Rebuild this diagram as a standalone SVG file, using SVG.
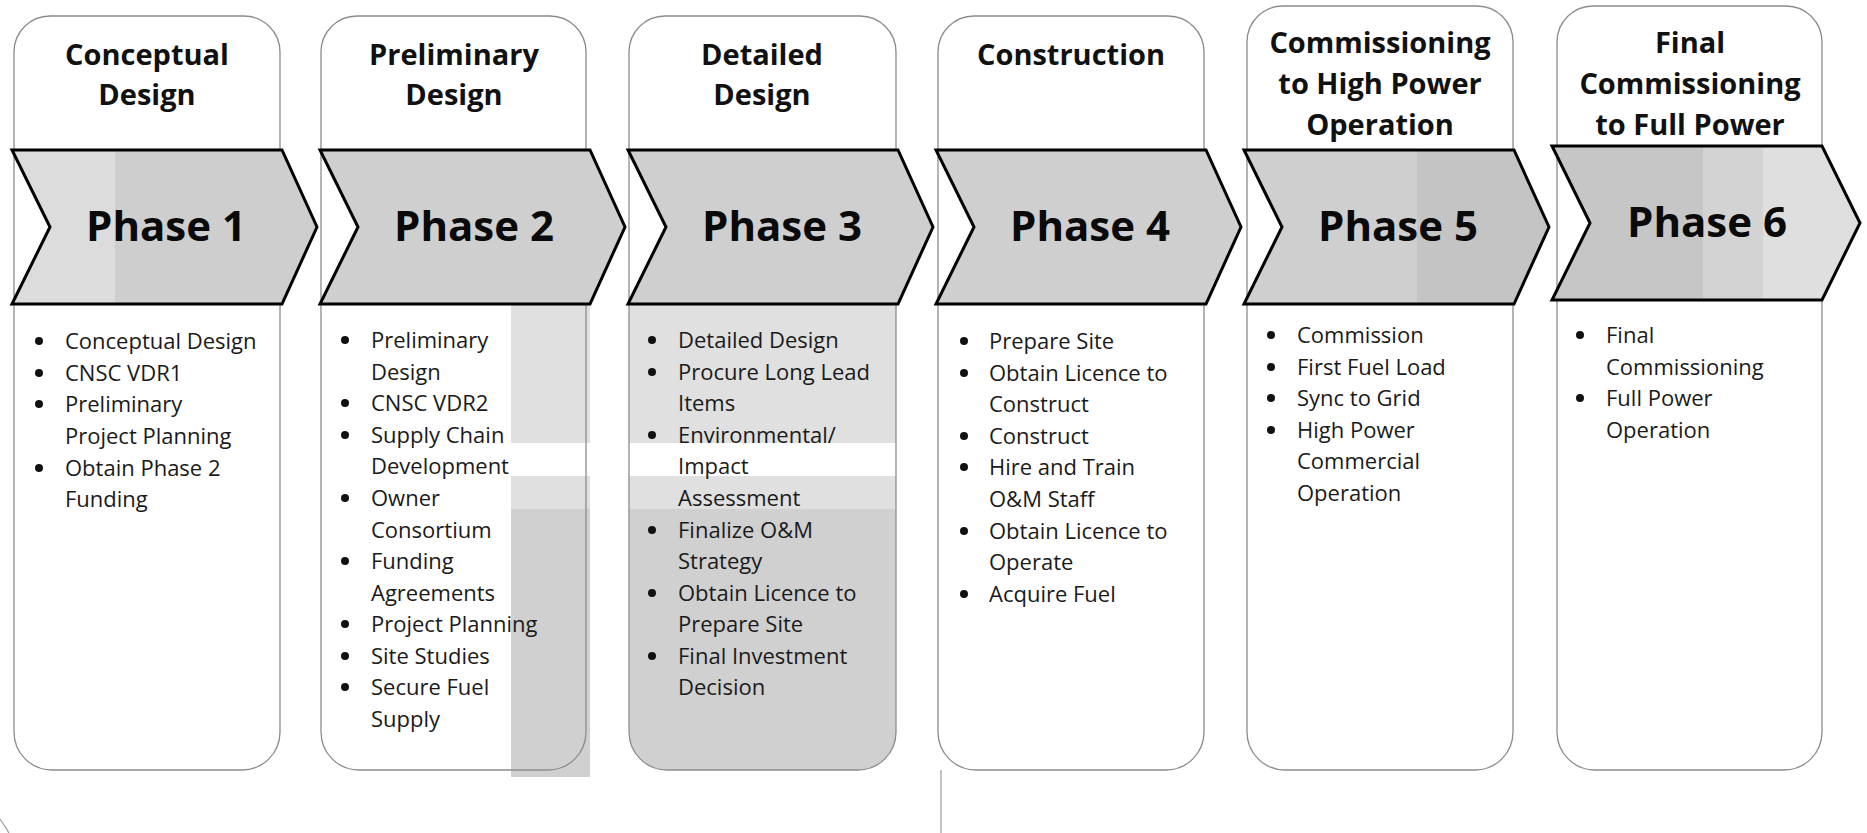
<svg xmlns="http://www.w3.org/2000/svg" width="1867" height="833" viewBox="0 0 1867 833">
<style>
.col{fill:#ffffff;stroke:none}
.colline{fill:none;stroke:#8c8c8c;stroke-width:1.3}
.chev{stroke:#000;stroke-width:3;stroke-linejoin:miter}
.hd{font-family:"Open Sans","Noto Sans","DejaVu Sans",sans-serif;font-weight:700;font-size:29px;fill:#111;text-anchor:middle}
.ph{font-family:"Open Sans","Noto Sans","DejaVu Sans",sans-serif;font-weight:700;font-size:42px;fill:#0a0a0a;text-anchor:middle}
.bd{font-family:"Open Sans","Noto Sans","DejaVu Sans",sans-serif;font-weight:400;font-size:22px;fill:#1a1a1a}
.bul{fill:#111}
.lt{fill:#e0e0e0}
.dk{fill:#d0d0d0}
.deco{fill:none;stroke:#9a9a9a;stroke-width:1.2}
</style>
<defs>
<linearGradient id="g1" gradientUnits="userSpaceOnUse" x1="12" y1="0" x2="317" y2="0">
<stop offset="0" stop-color="#dcdcdc"/><stop offset="0.338" stop-color="#dcdcdc"/><stop offset="0.338" stop-color="#cecece"/><stop offset="1" stop-color="#cecece"/>
</linearGradient>
<linearGradient id="g5" gradientUnits="userSpaceOnUse" x1="1244" y1="0" x2="1549" y2="0">
<stop offset="0" stop-color="#cfcfcf"/><stop offset="0.567" stop-color="#cfcfcf"/><stop offset="0.567" stop-color="#c4c4c4"/><stop offset="1" stop-color="#c4c4c4"/>
</linearGradient>
<linearGradient id="g6" gradientUnits="userSpaceOnUse" x1="1552" y1="0" x2="1860" y2="0">
<stop offset="0" stop-color="#c6c6c6"/><stop offset="0.49" stop-color="#c6c6c6"/><stop offset="0.49" stop-color="#d3d3d3"/><stop offset="0.684" stop-color="#d3d3d3"/><stop offset="0.684" stop-color="#dfdfdf"/><stop offset="1" stop-color="#dfdfdf"/>
</linearGradient>
<clipPath id="clip3">
<path d="M629,52 A36,36 0 0 1 665,16 H860 A36,36 0 0 1 896,52 V732 A38,38 0 0 1 858,770 H667 A38,38 0 0 1 629,732 Z"/>
</clipPath>
</defs>

<rect x="0" y="0" width="1867" height="833" fill="#ffffff"/>

<!-- Phase 1 -->
<g id="phase1">
<path class="col" d="M14,52 A36,36 0 0 1 50,16 H244 A36,36 0 0 1 280,52 V732 A38,38 0 0 1 242,770 H52 A38,38 0 0 1 14,732 Z"/>
<path class="colline" d="M14,52 A36,36 0 0 1 50,16 H244 A36,36 0 0 1 280,52 V732 A38,38 0 0 1 242,770 H52 A38,38 0 0 1 14,732 Z"/>
<text class="hd" x="147" y="65">Conceptual</text>
<text class="hd" x="147" y="105">Design</text>
<polygon class="chev" fill="url(#g1)" points="12,150 282,150 317,227 282,304 12,304 50,227"/>
<text class="ph" x="166" y="241">Phase 1</text>
<g class="bul"><circle cx="39" cy="341" r="4"/><circle cx="39" cy="373" r="4"/><circle cx="39" cy="404" r="4"/><circle cx="39" cy="468" r="4"/></g>
<text class="bd" x="65" y="349">Conceptual Design</text>
<text class="bd" x="65" y="381">CNSC VDR1</text>
<text class="bd" x="65" y="412">Preliminary</text>
<text class="bd" x="65" y="444">Project Planning</text>
<text class="bd" x="65" y="476">Obtain Phase 2</text>
<text class="bd" x="65" y="507">Funding</text>
</g>

<!-- Phase 2 -->
<g id="phase2">
<path class="col" d="M321,52 A36,36 0 0 1 357,16 H550 A36,36 0 0 1 586,52 V732 A38,38 0 0 1 548,770 H359 A38,38 0 0 1 321,732 Z"/>
<rect class="lt" x="511" y="305" width="79" height="138"/>
<rect class="lt" x="511" y="476" width="79" height="33"/>
<rect class="dk" x="511" y="509" width="79" height="268"/>
<path class="colline" d="M321,52 A36,36 0 0 1 357,16 H550 A36,36 0 0 1 586,52 V732 A38,38 0 0 1 548,770 H359 A38,38 0 0 1 321,732 Z"/>
<text class="hd" x="454" y="65">Preliminary</text>
<text class="hd" x="454" y="105">Design</text>
<polygon class="chev" fill="#cfcfcf" points="320,150 590,150 625,227 590,304 320,304 358,227"/>
<text class="ph" x="474" y="241">Phase 2</text>
<g class="bul"><circle cx="345" cy="340" r="4"/><circle cx="345" cy="403" r="4"/><circle cx="345" cy="435" r="4"/><circle cx="345" cy="498" r="4"/><circle cx="345" cy="561" r="4"/><circle cx="345" cy="624" r="4"/><circle cx="345" cy="656" r="4"/><circle cx="345" cy="687" r="4"/></g>
<text class="bd" x="371" y="348">Preliminary</text>
<text class="bd" x="371" y="380">Design</text>
<text class="bd" x="371" y="411">CNSC VDR2</text>
<text class="bd" x="371" y="443">Supply Chain</text>
<text class="bd" x="371" y="474">Development</text>
<text class="bd" x="371" y="506">Owner</text>
<text class="bd" x="371" y="538">Consortium</text>
<text class="bd" x="371" y="569">Funding</text>
<text class="bd" x="371" y="601">Agreements</text>
<text class="bd" x="371" y="632">Project Planning</text>
<text class="bd" x="371" y="664">Site Studies</text>
<text class="bd" x="371" y="695">Secure Fuel</text>
<text class="bd" x="371" y="727">Supply</text>
</g>

<!-- Phase 3 -->
<g id="phase3">
<path class="col" d="M629,52 A36,36 0 0 1 665,16 H860 A36,36 0 0 1 896,52 V732 A38,38 0 0 1 858,770 H667 A38,38 0 0 1 629,732 Z"/>
<g clip-path="url(#clip3)">
<rect class="lt" x="625" y="305" width="275" height="138"/>
<rect class="lt" x="625" y="476" width="275" height="33"/>
<rect class="dk" x="625" y="509" width="275" height="270"/>
</g>
<path class="colline" d="M629,52 A36,36 0 0 1 665,16 H860 A36,36 0 0 1 896,52 V732 A38,38 0 0 1 858,770 H667 A38,38 0 0 1 629,732 Z"/>
<text class="hd" x="762" y="65">Detailed</text>
<text class="hd" x="762" y="105">Design</text>
<polygon class="chev" fill="#cfcfcf" points="628,150 898,150 933,227 898,304 628,304 666,227"/>
<text class="ph" x="782" y="241">Phase 3</text>
<g class="bul"><circle cx="652" cy="340" r="4"/><circle cx="652" cy="372" r="4"/><circle cx="652" cy="435" r="4"/><circle cx="652" cy="530" r="4"/><circle cx="652" cy="593" r="4"/><circle cx="652" cy="656" r="4"/></g>
<text class="bd" x="678" y="348">Detailed Design</text>
<text class="bd" x="678" y="380">Procure Long Lead</text>
<text class="bd" x="678" y="411">Items</text>
<text class="bd" x="678" y="443">Environmental/</text>
<text class="bd" x="678" y="474">Impact</text>
<text class="bd" x="678" y="506">Assessment</text>
<text class="bd" x="678" y="538">Finalize O&amp;M</text>
<text class="bd" x="678" y="569">Strategy</text>
<text class="bd" x="678" y="601">Obtain Licence to</text>
<text class="bd" x="678" y="632">Prepare Site</text>
<text class="bd" x="678" y="664">Final Investment</text>
<text class="bd" x="678" y="695">Decision</text>
</g>

<!-- Phase 4 -->
<g id="phase4">
<path class="col" d="M938,52 A36,36 0 0 1 974,16 H1168 A36,36 0 0 1 1204,52 V732 A38,38 0 0 1 1166,770 H976 A38,38 0 0 1 938,732 Z"/>
<path class="colline" d="M938,52 A36,36 0 0 1 974,16 H1168 A36,36 0 0 1 1204,52 V732 A38,38 0 0 1 1166,770 H976 A38,38 0 0 1 938,732 Z"/>
<text class="hd" x="1071" y="65">Construction</text>
<polygon class="chev" fill="#cfcfcf" points="936,150 1206,150 1241,227 1206,304 936,304 974,227"/>
<text class="ph" x="1090" y="241">Phase 4</text>
<g class="bul"><circle cx="964" cy="341" r="4"/><circle cx="964" cy="373" r="4"/><circle cx="964" cy="436" r="4"/><circle cx="964" cy="467" r="4"/><circle cx="964" cy="531" r="4"/><circle cx="964" cy="594" r="4"/></g>
<text class="bd" x="989" y="349">Prepare Site</text>
<text class="bd" x="989" y="381">Obtain Licence to</text>
<text class="bd" x="989" y="412">Construct</text>
<text class="bd" x="989" y="444">Construct</text>
<text class="bd" x="989" y="475">Hire and Train</text>
<text class="bd" x="989" y="507">O&amp;M Staff</text>
<text class="bd" x="989" y="539">Obtain Licence to</text>
<text class="bd" x="989" y="570">Operate</text>
<text class="bd" x="989" y="602">Acquire Fuel</text>
</g>

<!-- Phase 5 -->
<g id="phase5">
<path class="col" d="M1247,42 A36,36 0 0 1 1283,6 H1477 A36,36 0 0 1 1513,42 V732 A38,38 0 0 1 1475,770 H1285 A38,38 0 0 1 1247,732 Z"/>
<path class="colline" d="M1247,42 A36,36 0 0 1 1283,6 H1477 A36,36 0 0 1 1513,42 V732 A38,38 0 0 1 1475,770 H1285 A38,38 0 0 1 1247,732 Z"/>
<text class="hd" x="1380" y="53">Commissioning</text>
<text class="hd" x="1380" y="94">to High Power</text>
<text class="hd" x="1380" y="135">Operation</text>
<polygon class="chev" fill="url(#g5)" points="1244,150 1514,150 1549,227 1514,304 1244,304 1282,227"/>
<text class="ph" x="1398" y="241">Phase 5</text>
<g class="bul"><circle cx="1271" cy="335" r="4"/><circle cx="1271" cy="367" r="4"/><circle cx="1271" cy="398" r="4"/><circle cx="1271" cy="430" r="4"/></g>
<text class="bd" x="1297" y="343">Commission</text>
<text class="bd" x="1297" y="375">First Fuel Load</text>
<text class="bd" x="1297" y="406">Sync to Grid</text>
<text class="bd" x="1297" y="438">High Power</text>
<text class="bd" x="1297" y="469">Commercial</text>
<text class="bd" x="1297" y="501">Operation</text>
</g>

<!-- Phase 6 -->
<g id="phase6">
<path class="col" d="M1557,42 A36,36 0 0 1 1593,6 H1786 A36,36 0 0 1 1822,42 V732 A38,38 0 0 1 1784,770 H1595 A38,38 0 0 1 1557,732 Z"/>
<path class="colline" d="M1557,42 A36,36 0 0 1 1593,6 H1786 A36,36 0 0 1 1822,42 V732 A38,38 0 0 1 1784,770 H1595 A38,38 0 0 1 1557,732 Z"/>
<text class="hd" x="1690" y="53">Final</text>
<text class="hd" x="1690" y="94">Commissioning</text>
<text class="hd" x="1690" y="135">to Full Power</text>
<polygon class="chev" fill="url(#g6)" points="1552,146 1822,146 1860,223 1822,300 1552,300 1590,223"/>
<text class="ph" x="1707" y="237">Phase 6</text>
<g class="bul"><circle cx="1580" cy="335" r="4"/><circle cx="1580" cy="398" r="4"/></g>
<text class="bd" x="1606" y="343">Final</text>
<text class="bd" x="1606" y="375">Commissioning</text>
<text class="bd" x="1606" y="406">Full Power</text>
<text class="bd" x="1606" y="438">Operation</text>
</g>

<g id="connectors"></g>

<g id="decoration">
<line class="deco" x1="941" y1="770" x2="941" y2="833"/>
<path class="deco" d="M0,819 Q5,826 9,833"/>
</g>
</svg>
